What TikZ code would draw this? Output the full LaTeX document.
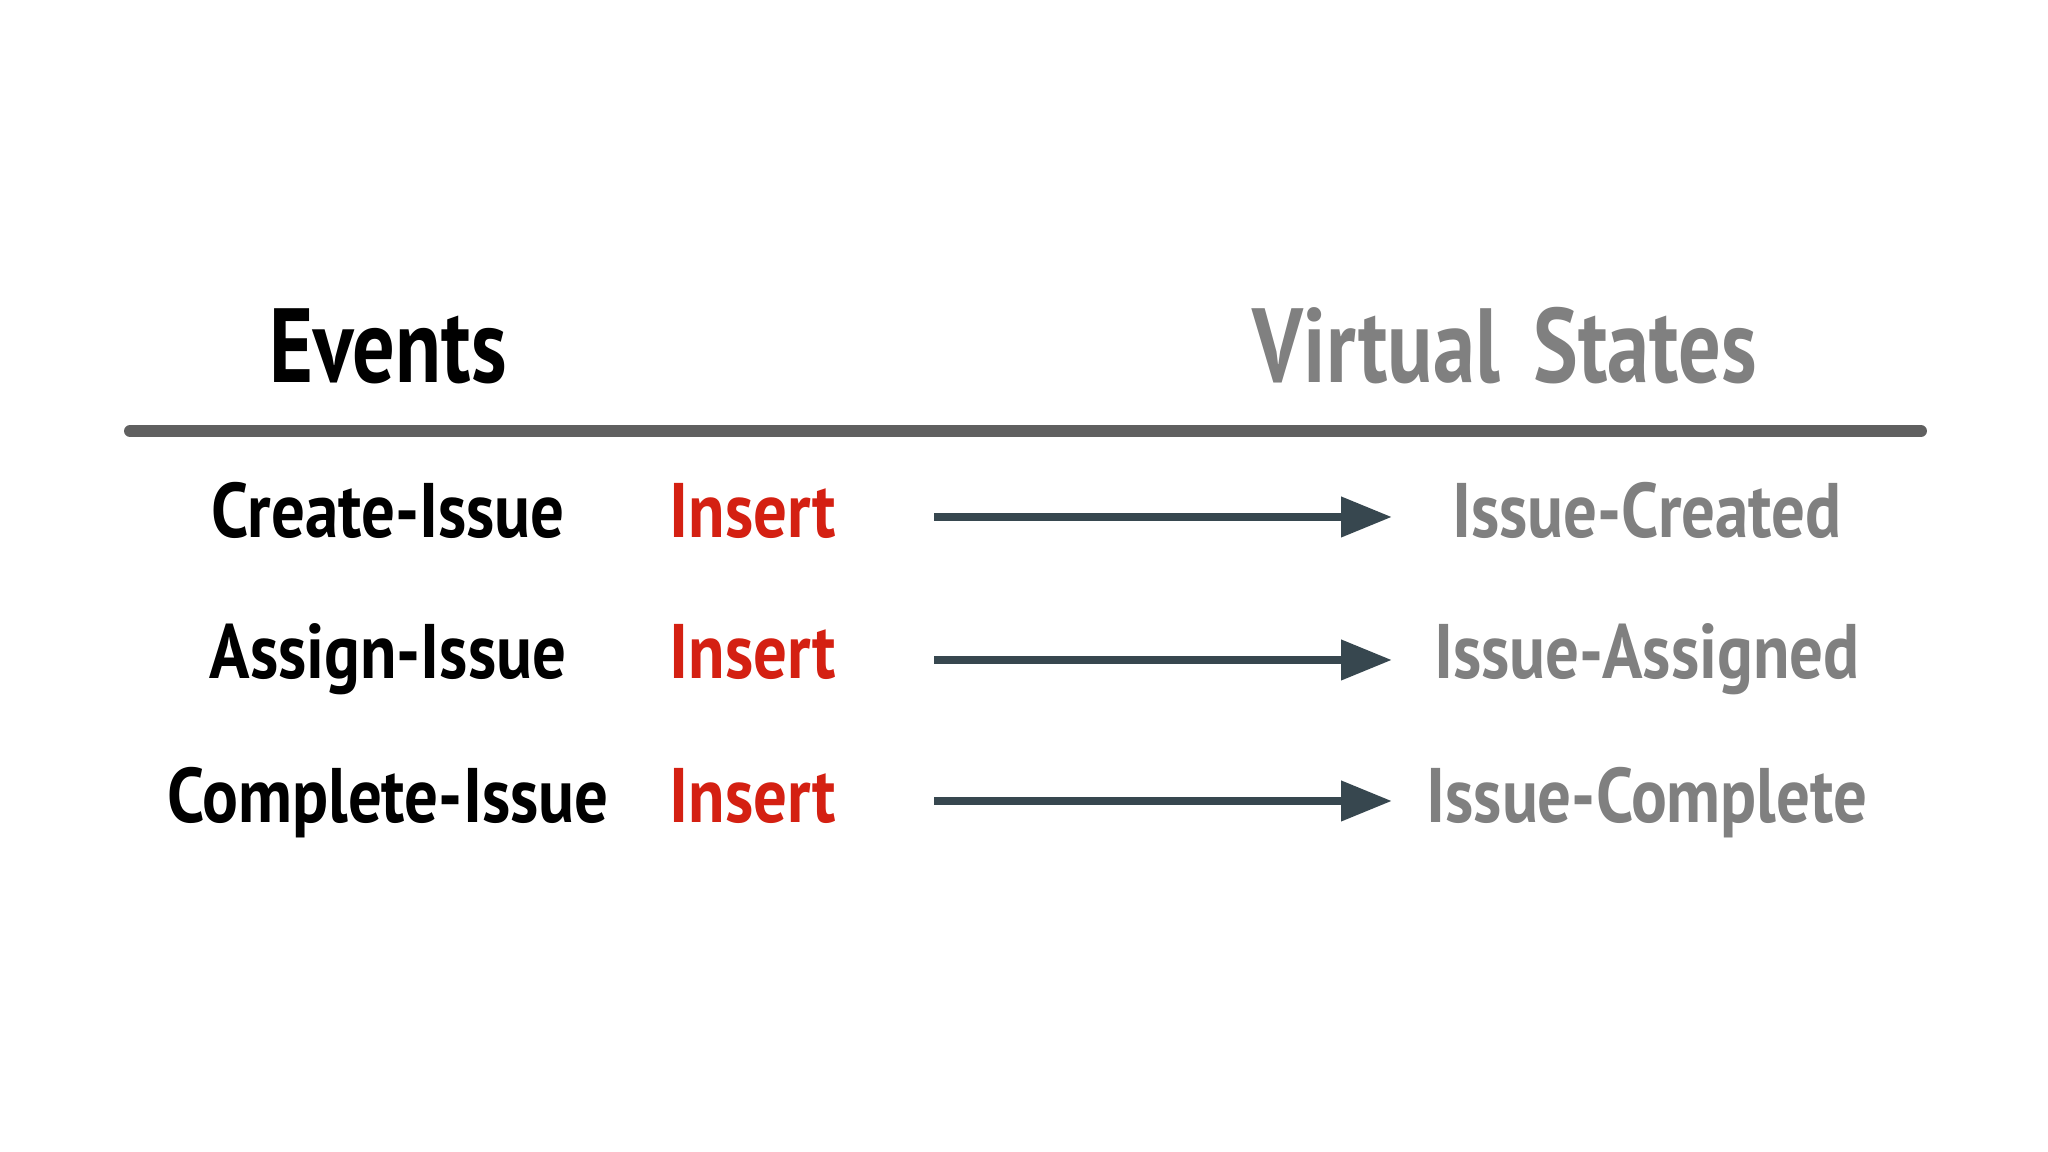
\documentclass[tikz,border=0pt]{standalone}
\usepackage{fontspec}
\setmainfont[FakeStretch=0.8]{PT Sans}
\newfontfamily\rowfont[FakeStretch=0.865]{PT Sans}
\usetikzlibrary{arrows.meta}

\begin{document}
\begin{tikzpicture}
	\definecolor{insertred}{HTML}{D42012}
	\definecolor{stategray}{HTML}{808080}
	\definecolor{rulegray}{HTML}{606060}
	\definecolor{arrowslate}{HTML}{37474F}
	\tikzset{
		head/.style={anchor=base,font=\fontsize{30}{36}\selectfont\bfseries,inner sep=0pt},
		event/.style={anchor=base,font=\rowfont\fontsize{22}{26}\selectfont\bfseries,inner sep=0pt},
		flow/.style={line width=2.4pt,arrowslate,-{Triangle[length=14.5pt,width=11pt]}}
	}
	\useasboundingbox (0,0) rectangle (20.48,11.52);

	% headings
	\node[head] (events) at (3.88,7.69) {Events};
	\node[head,stategray] (states) at (15.05,7.69) {Virtual\hspace{0.32em}States};
	\draw[line width=3.4pt,rulegray,line cap=round] (1.30,7.21) -- (19.21,7.21);

	% rows
	\node[event] (ev1) at (3.88,6.14) {Create-Issue};
	\node[event] (ev2) at (3.88,4.73) {Assign-Issue};
	\node[event] (ev3) at (3.88,3.29) {Complete-Issue};

	\node[event,anchor=base west,insertred] (ins1) at (6.69,6.14) {Insert};
	\node[event,anchor=base west,insertred] (ins2) at (6.69,4.73) {Insert};
	\node[event,anchor=base west,insertred] (ins3) at (6.69,3.29) {Insert};

	\node[event,stategray] (st1) at (16.47,6.14) {Issue-Created};
	\node[event,stategray] (st2) at (16.47,4.73) {Issue-Assigned};
	\node[event,stategray] (st3) at (16.47,3.29) {Issue-Complete};

	% arrows
	\coordinate (from1) at (9.34,6.35);
	\coordinate (to1) at (13.92,6.35);
	\coordinate (from2) at (9.34,4.92);
	\coordinate (to2) at (13.92,4.92);
	\coordinate (from3) at (9.34,3.51);
	\coordinate (to3) at (13.92,3.51);
	\draw[flow] (from1) -- (to1);
	\draw[flow] (from2) -- (to2);
	\draw[flow] (from3) -- (to3);
\end{tikzpicture}
\end{document}
